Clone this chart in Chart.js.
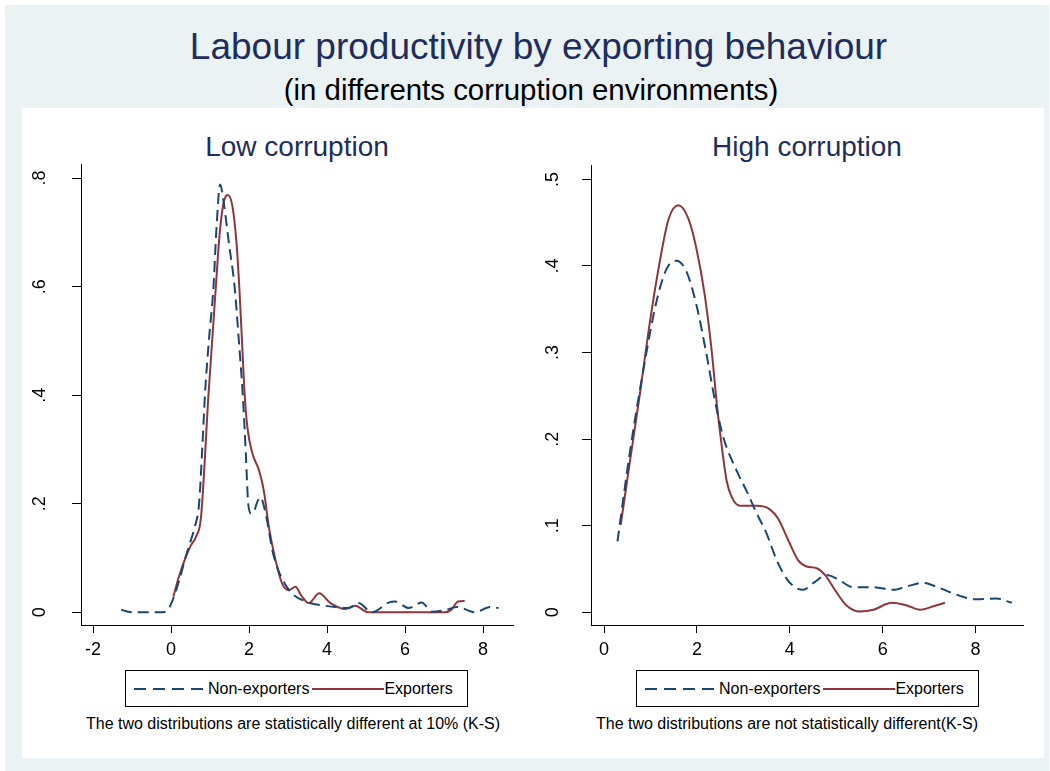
<!DOCTYPE html>
<html>
<head>
<meta charset="utf-8">
<title>Labour productivity by exporting behaviour</title>
<script src="https://cdn.jsdelivr.net/npm/chart.js@4.4.0/dist/chart.umd.min.js"></script>
<style>
  body { margin: 0; background: #fff; font-family: "Liberation Sans", Arial, sans-serif; }
  #page { position: relative; width: 1050px; height: 771px; overflow: hidden; }
  #outer { position: absolute; left: 5px; top: 5px; width: 1044px; height: 766px; background: #eaf2f3; }
  #inner { position: absolute; left: 22px; top: 108px; width: 1022px; height: 650px; background: #fff; }
  .txt { position: absolute; white-space: nowrap; }
  .title { left: 0; width: 1077px; text-align: center; top: 28px; font-size: 37px; line-height: 37px; color: #1f2d5c; }
  .subtitle { left: 0; width: 1062px; text-align: center; top: 75px; font-size: 29.4px; line-height: 29px; color: #000; }
  .ptitle { top: 133px; width: 400px; text-align: center; font-size: 28px; line-height: 28px; color: #1f2d5c; }
  .note { top: 716px; font-size: 16px; line-height: 16px; color: #000; }
  .legend { position: absolute; top: 670px; width: 341px; height: 35px; border: 1px solid #000; background: #fff;
            display: flex; align-items: center; font-size: 16px; color: #000; }
  .legend svg { display: block; }
  .chartbox { position: absolute; }
</style>
</head>
<body>
<div id="page">
  <div id="outer"></div>
  <div id="inner"></div>

  <div class="txt title">Labour productivity by exporting behaviour</div>
  <div class="txt subtitle">(in differents corruption environments)</div>

  <div class="txt ptitle" style="left:97px">Low corruption</div>
  <div class="txt ptitle" style="left:607px">High corruption</div>

  <div class="chartbox" style="left:22px; top:130px"><canvas id="lowChart" width="510" height="535"></canvas></div>
  <div class="chartbox" style="left:540px; top:134px"><canvas id="highChart" width="500" height="531"></canvas></div>

  <div class="legend" style="left:125px" id="legendLow"></div>
  <div class="legend" style="left:636px" id="legendHigh"></div>

  <div class="txt note" style="left:86px">The two distributions are statistically different at 10% (K-S)</div>
  <div class="txt note" style="left:596px">The two distributions are not statistically different(K-S)</div>
</div>

<script>
const seriesNames = ['Non-exporters', 'Exporters'];
const seriesColors = ['#1a476f', '#90353b'];

// Low corruption: kernel densities
const lowNonX = [-1.28, -1.1, -0.98, -0.26, -0.09, 0.04, 0.21, 0.38, 0.51, 0.62, 0.72, 0.8, 0.87, 0.97, 1.09, 1.16, 1.26,
                 1.36, 1.49, 1.63, 1.74, 1.84, 1.92, 1.98, 2.06, 2.13, 2.22, 2.3, 2.38, 2.46, 2.6, 2.75, 2.9, 3.1, 3.45,
                 3.96, 4.55, 4.81, 5.15, 5.58, 5.75, 6.09, 6.43, 6.69, 7.07, 7.33, 7.8, 8.18, 8.4];
const lowNonY = [0.005, 0.001, 0, 0, 0.004, 0.022, 0.059, 0.103, 0.133, 0.16, 0.2, 0.3, 0.4, 0.5, 0.6, 0.7, 0.788,
                 0.75, 0.677, 0.6, 0.5, 0.4, 0.29, 0.2, 0.182, 0.186, 0.205, 0.212, 0.196, 0.17, 0.114, 0.078, 0.055, 0.035, 0.02,
                 0.012, 0.008, 0.017, 0, 0.018, 0.02, 0.008, 0.018, 0.001, 0.005, 0.01, 0, 0.01, 0.008];
const lowExpX = [0.06, 0.2, 0.38, 0.5, 0.64, 0.77, 0.96, 1.15, 1.25, 1.35, 1.45, 1.57, 1.68, 1.75, 1.82, 1.89, 1.96,
                 2.09, 2.26, 2.38, 2.51, 2.68, 2.85, 3.02, 3.19, 3.35, 3.53, 3.8, 4.09, 4.47, 4.72, 5.06, 7.02, 7.19, 7.36, 7.53];
const lowExpY = [0.029, 0.065, 0.102, 0.122, 0.139, 0.176, 0.4, 0.6, 0.7, 0.755, 0.769, 0.75, 0.68, 0.6, 0.5, 0.4, 0.34,
                 0.292, 0.261, 0.224, 0.157, 0.096, 0.053, 0.041, 0.047, 0.03, 0.017, 0.035, 0.017, 0.006, 0.012, 0, 0, 0.005, 0.02, 0.021];

// High corruption
const highNonX = [0.29, 0.56, 0.88, 1.13, 1.35, 1.56, 1.78, 1.99, 2.21, 2.39, 2.57, 2.86, 3.07, 3.29, 3.5, 3.72, 3.93,
                  4.11, 4.29, 4.51, 4.79, 5.01, 5.37, 5.8, 6.23, 6.52, 6.87, 7.23, 7.66, 8.02, 8.45, 8.78];
const highNonY = [0.082, 0.186, 0.29, 0.359, 0.397, 0.406, 0.393, 0.355, 0.297, 0.244, 0.202, 0.163, 0.14, 0.114, 0.091, 0.06, 0.039,
                  0.029, 0.026, 0.034, 0.043, 0.039, 0.029, 0.029, 0.026, 0.03, 0.034, 0.028, 0.019, 0.015, 0.016, 0.011];
const highExpX = [0.36, 0.56, 0.78, 0.99, 1.21, 1.39, 1.6, 1.82, 1.99, 2.17, 2.32, 2.43, 2.53, 2.64, 2.75, 2.93, 3.29,
                  3.57, 3.75, 3.97, 4.18, 4.36, 4.58, 4.76, 4.97, 5.22, 5.51, 5.8, 6.19, 6.52, 6.8, 7.09, 7.34];
const highExpY = [0.101, 0.175, 0.255, 0.336, 0.408, 0.454, 0.47, 0.454, 0.42, 0.366, 0.301, 0.24, 0.194, 0.152, 0.133, 0.123, 0.123,
                  0.119, 0.108, 0.083, 0.06, 0.053, 0.051, 0.043, 0.026, 0.008, 0.001, 0.003, 0.011, 0.008, 0.003, 0.007, 0.011];

// axes
const lowXTicks = [-2, 0, 2, 4, 6, 8];
const lowYTicks = [0, 0.2, 0.4, 0.6, 0.8];
const lowYTickLabels = ['0', '.2', '.4', '.6', '.8'];
const highXTicks = [0, 2, 4, 6, 8];
const highYTicks = [0, 0.1, 0.2, 0.3, 0.4, 0.5];
const highYTickLabels = ['0', '.1', '.2', '.3', '.4', '.5'];

function pts(xs, ys) {
    return xs.map((x, i) => ({ x: x, y: ys[i] }));
}

function makeChart(id, s) {
    const ctx = document.getElementById(id).getContext('2d');
    return new Chart(ctx, {
        type: 'scatter',
        data: {
            datasets: [
                { label: seriesNames[0], data: pts(s.nonX, s.nonY), showLine: true, borderColor: seriesColors[0],
                  borderWidth: 2, borderDash: [11, 6], pointRadius: 0, cubicInterpolationMode: 'monotone', fill: false },
                { label: seriesNames[1], data: pts(s.expX, s.expY), showLine: true, borderColor: seriesColors[1],
                  borderWidth: 2, pointRadius: 0, cubicInterpolationMode: 'monotone', fill: false }
            ]
        },
        options: {
            responsive: false,
            animation: false,
            events: [],
            layout: { autoPadding: false, padding: { left: 0, top: 13, right: s.padRight, bottom: 0 } },
            plugins: { legend: { display: false }, tooltip: { enabled: false } },
            scales: {
                x: {
                    type: 'linear', min: s.xMin, max: s.xMax,
                    afterBuildTicks: sc => { sc.ticks = s.xTicks.map(v => ({ value: v })); },
                    afterFit: sc => { sc.height = 40; },
                    grid: { drawOnChartArea: false, drawTicks: true, tickLength: 8, color: '#000', tickWidth: 1 },
                    border: { display: true, color: '#000', width: 1 },
                    ticks: { color: '#000', padding: 6, maxRotation: 0, autoSkip: false,
                             font: { family: '"Liberation Sans", Arial, sans-serif', size: 18 },
                             callback: v => String(v) }
                },
                y: {
                    type: 'linear', min: s.yMin, max: s.yMax,
                    afterBuildTicks: sc => { sc.ticks = s.yTicks.map(v => ({ value: v })); },
                    afterFit: sc => { sc.width = s.yWidth; },
                    grid: { drawOnChartArea: false, drawTicks: true, tickLength: 9, color: '#000', tickWidth: 1 },
                    border: { display: true, color: '#000', width: 1 },
                    ticks: { color: '#000', padding: s.yPad, minRotation: 90, maxRotation: 90, crossAlign: 'center',
                             autoSkip: false,
                             font: { family: '"Liberation Sans", Arial, sans-serif', size: 18 },
                             callback: v => s.yLabels[s.yTicks.indexOf(v)] }
                }
            }
        }
    });
}

makeChart('lowChart', {
    nonX: lowNonX, nonY: lowNonY, expX: lowExpX, expY: lowExpY,
    xMin: -2.308, xMax: 8.769, yMin: -0.0233, yMax: 0.8244,
    xTicks: lowXTicks, yTicks: lowYTicks, yLabels: lowYTickLabels,
    yWidth: 59, yPad: 24, padRight: 19
});

makeChart('highChart', {
    nonX: highNonX, nonY: highNonY, expX: highExpX, expY: highExpY,
    xMin: -0.28, xMax: 9.02, yMin: -0.0146, yMax: 0.5157,
    xTicks: highXTicks, yTicks: highYTicks, yLabels: highYTickLabels,
    yWidth: 51, yPad: 21, padRight: 17
});

// boxed legends, like the original
function buildLegend(id) {
    const box = document.getElementById(id);
    box.innerHTML =
        '<svg width="83" height="4" style="margin-left:8px"><line x1="0" y1="2" x2="74" y2="2" stroke="' + seriesColors[0] +
        '" stroke-width="2" stroke-dasharray="12 7"/></svg>' +
        '<span style="margin-left:-9px">' + seriesNames[0] + '</span>' +
        '<svg width="72" height="4" style="margin-left:3px"><line x1="0" y1="2" x2="72" y2="2" stroke="' + seriesColors[1] +
        '" stroke-width="2"/></svg>' +
        '<span>' + seriesNames[1] + '</span>';
}
buildLegend('legendLow');
buildLegend('legendHigh');
</script>
</body>
</html>
